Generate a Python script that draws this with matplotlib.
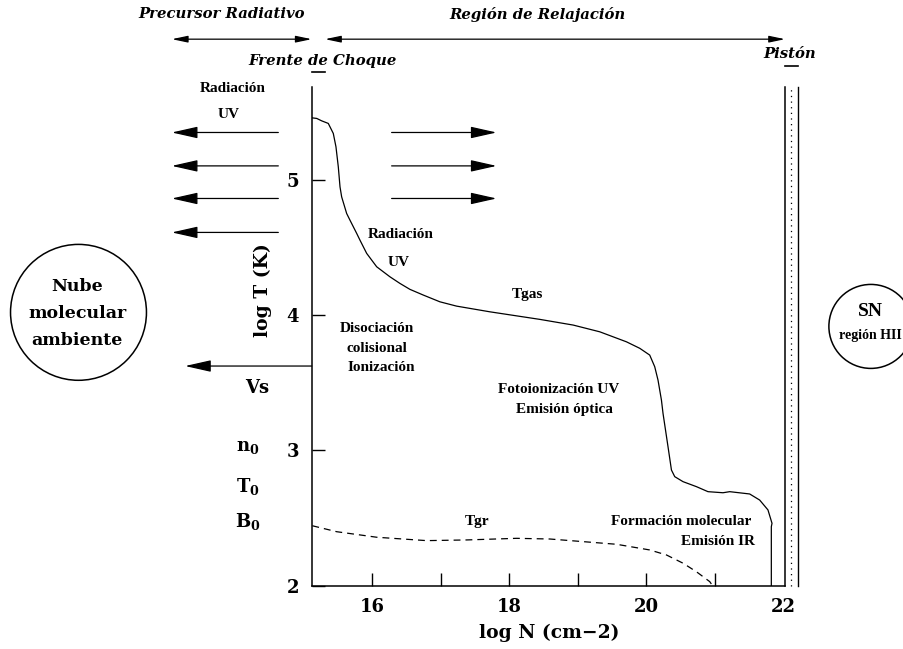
import matplotlib
matplotlib.use('Agg')
import matplotlib.pyplot as plt
from matplotlib.patches import Ellipse

# temperature profile behind the shock: log N (cm-2) vs log T (K)
n_gas = [15.129, 15.193, 15.266, 15.362, 15.435, 15.474, 15.508, 15.533, 15.557,
         15.630, 15.678, 15.776, 15.824, 15.922, 16.068, 16.261, 16.407, 16.553,
         16.747, 16.990, 17.234, 17.719, 18.448,
         18.934, 19.323, 19.712, 19.906, 20.051, 20.124, 20.172, 20.222, 20.245,
         20.318, 20.368, 20.416, 20.537, 20.733, 20.901, 21.120, 21.218, 21.509,
         21.655, 21.776, 21.835, 21.825, 21.825]
t_gas = [5.459, 5.455, 5.437, 5.418, 5.344, 5.245, 5.097, 4.949, 4.875,
         4.752, 4.703, 4.605, 4.555, 4.457, 4.358, 4.284, 4.235, 4.191,
         4.149, 4.099, 4.067, 4.025, 3.969,
         3.927, 3.877, 3.803, 3.755, 3.705, 3.619, 3.520, 3.372, 3.274,
         3.027, 2.855, 2.806, 2.769, 2.732, 2.695, 2.687, 2.695, 2.678,
         2.633, 2.560, 2.461, 2.436, 2.0]

# grain temperature
n_gr = [15.129, 15.484, 16.068, 16.796, 17.379, 18.108, 18.594, 19.566,
        20.051, 20.295, 20.537, 20.732, 20.926, 20.955]
t_gr = [2.443, 2.399, 2.358, 2.333, 2.338, 2.350, 2.345, 2.306,
        2.264, 2.227, 2.166, 2.103, 2.030, 2.009]

x_major = [16, 18, 20, 22]
x_minor = [17, 19, 21]
y_major = [2, 3, 4, 5]

plt.rcParams['font.family'] = 'DejaVu Serif'
plt.rcParams['font.weight'] = 'bold'
plt.rcParams['mathtext.fontset'] = 'dejavuserif'

fig = plt.figure(figsize=(9.04, 6.49), dpi=100)
ax = fig.add_axes([0.3448, 0.0976, 0.5236, 0.7689])

ax.plot(n_gas, t_gas, color='k', lw=0.9)
ax.plot(n_gr, t_gr, color='k', lw=0.9, dashes=(5.5, 4))

ax.set_xlim(15.12, 22.025)
ax.set_ylim(2, 5.69)
ax.spines['top'].set_visible(False)
for s in ['left', 'bottom', 'right']:
    ax.spines[s].set_linewidth(1.1)

ax.set_xticks(x_major)
ax.set_xticks(x_minor, minor=True)
ax.set_yticks(y_major)
ax.tick_params(which='both', direction='in', length=9.5, width=1.0,
               labelsize=13, right=False, top=False)
ax.tick_params(axis='x', pad=9)
ax.tick_params(axis='y', pad=9)
ax.xaxis.get_major_ticks()[-1].tick1line.set_visible(False)

# piston: double wall with dotted core
ax.plot([22.213, 22.213], [2, 5.69], color='k', lw=1.0, clip_on=False)
ax.plot([22.111, 22.111], [2, 5.69], color='k', lw=0.9,
        ls=(0, (1, 3.5)), clip_on=False)

# small markers for shock front and piston
ax.plot([15.12, 15.314], [5.799, 5.799], color='k', lw=1.2, clip_on=False)
ax.plot([22.025, 22.21], [5.843, 5.843], color='k', lw=1.2, clip_on=False)


def txt(x, y, s, size=11, fam='Liberation Serif', **kw):
    ax.text(x, y, s, fontsize=size, family=fam, weight='bold',
            ha=kw.pop('ha', 'center'), va='center', clip_on=False, **kw)


def arrow(x0, x1, y, style):
    ax.annotate('', xy=(x1, y), xytext=(x0, y), annotation_clip=False,
                arrowprops=dict(arrowstyle=style, color='k', lw=0.9,
                                shrinkA=0, shrinkB=0))


big_head = '-|>,head_length=1.6,head_width=0.36'
small_head = '<|-|>,head_length=0.95,head_width=0.2'

# region arrows along the top
arrow(13.079, 15.12, 6.041, small_head)
arrow(15.314, 22.025, 6.041, small_head)
txt(13.808, 6.225, 'Precursor Radiativo', 10.7, 'DejaVu Serif', style='italic')
txt(18.419, 6.225, 'Región de Relajación', 10.7, 'DejaVu Serif', style='italic')
txt(15.277, 5.878, 'Frente de Choque', 10.7, 'DejaVu Serif', style='italic')
txt(22.099, 5.935, 'Pistón', 10.7, 'DejaVu Serif', style='italic')

# UV radiation escaping upstream and downstream
for y in [5.351, 5.104, 4.863, 4.612]:
    arrow(14.633, 13.079, y, big_head)
for y in [5.351, 5.104, 4.863]:
    arrow(16.286, 17.817, y, big_head)
txt(13.966, 5.678, 'Radiación')
txt(13.915, 5.486, 'UV')
txt(16.419, 4.599, 'Radiación')
txt(16.39, 4.391, 'UV')

# shock velocity
arrow(15.12, 13.273, 3.624, big_head)
txt(14.318, 3.463, 'Vs', 13, 'DejaVu Serif')
txt(14.184, 3.018, r'$\mathbf{n_0}$', 13)
txt(14.184, 2.732, r'$\mathbf{T_0}$', 13)
txt(14.184, 2.473, r'$\mathbf{B_0}$', 13)

# region labels
txt(18.273, 4.156, 'Tgas')
txt(16.072, 3.905, 'Disociación')
txt(16.072, 3.757, 'colisional')
txt(16.13, 3.616, 'Ionización')
txt(18.725, 3.454, 'Fotoionización UV')
txt(18.812, 3.299, 'Emisión óptica')
txt(17.537, 2.478, 'Tgr')
txt(21.538, 2.478, 'Formación molecular', ha='right')
txt(21.592, 2.330, 'Emisión IR', ha='right')

# axis titles
txt(14.41, 4.184, 'log T (K)', 13.5, 'DejaVu Serif', rotation=90)
txt(18.579, 1.648, 'log N (cm−2)', 13.5, 'DejaVu Serif')

# ambient cloud and SN / HII region
ax.add_patch(Ellipse((11.718, 4.021), 1.983, 1.005, fill=False,
                     lw=1.1, color='k', clip_on=False))
txt(11.70, 4.210, 'Nube', 12.5, 'DejaVu Serif')
txt(11.70, 4.013, 'molecular', 12.5, 'DejaVu Serif')
txt(11.70, 3.816, 'ambiente', 12.5, 'DejaVu Serif')

ax.add_patch(Ellipse((23.277, 3.917), 1.2245, 0.621, fill=False,
                     lw=1.1, color='k', clip_on=False))
txt(23.277, 4.025, 'SN', 14)
txt(23.277, 3.853, 'región HII', 10)

fig.savefig('out.png', dpi=100)
